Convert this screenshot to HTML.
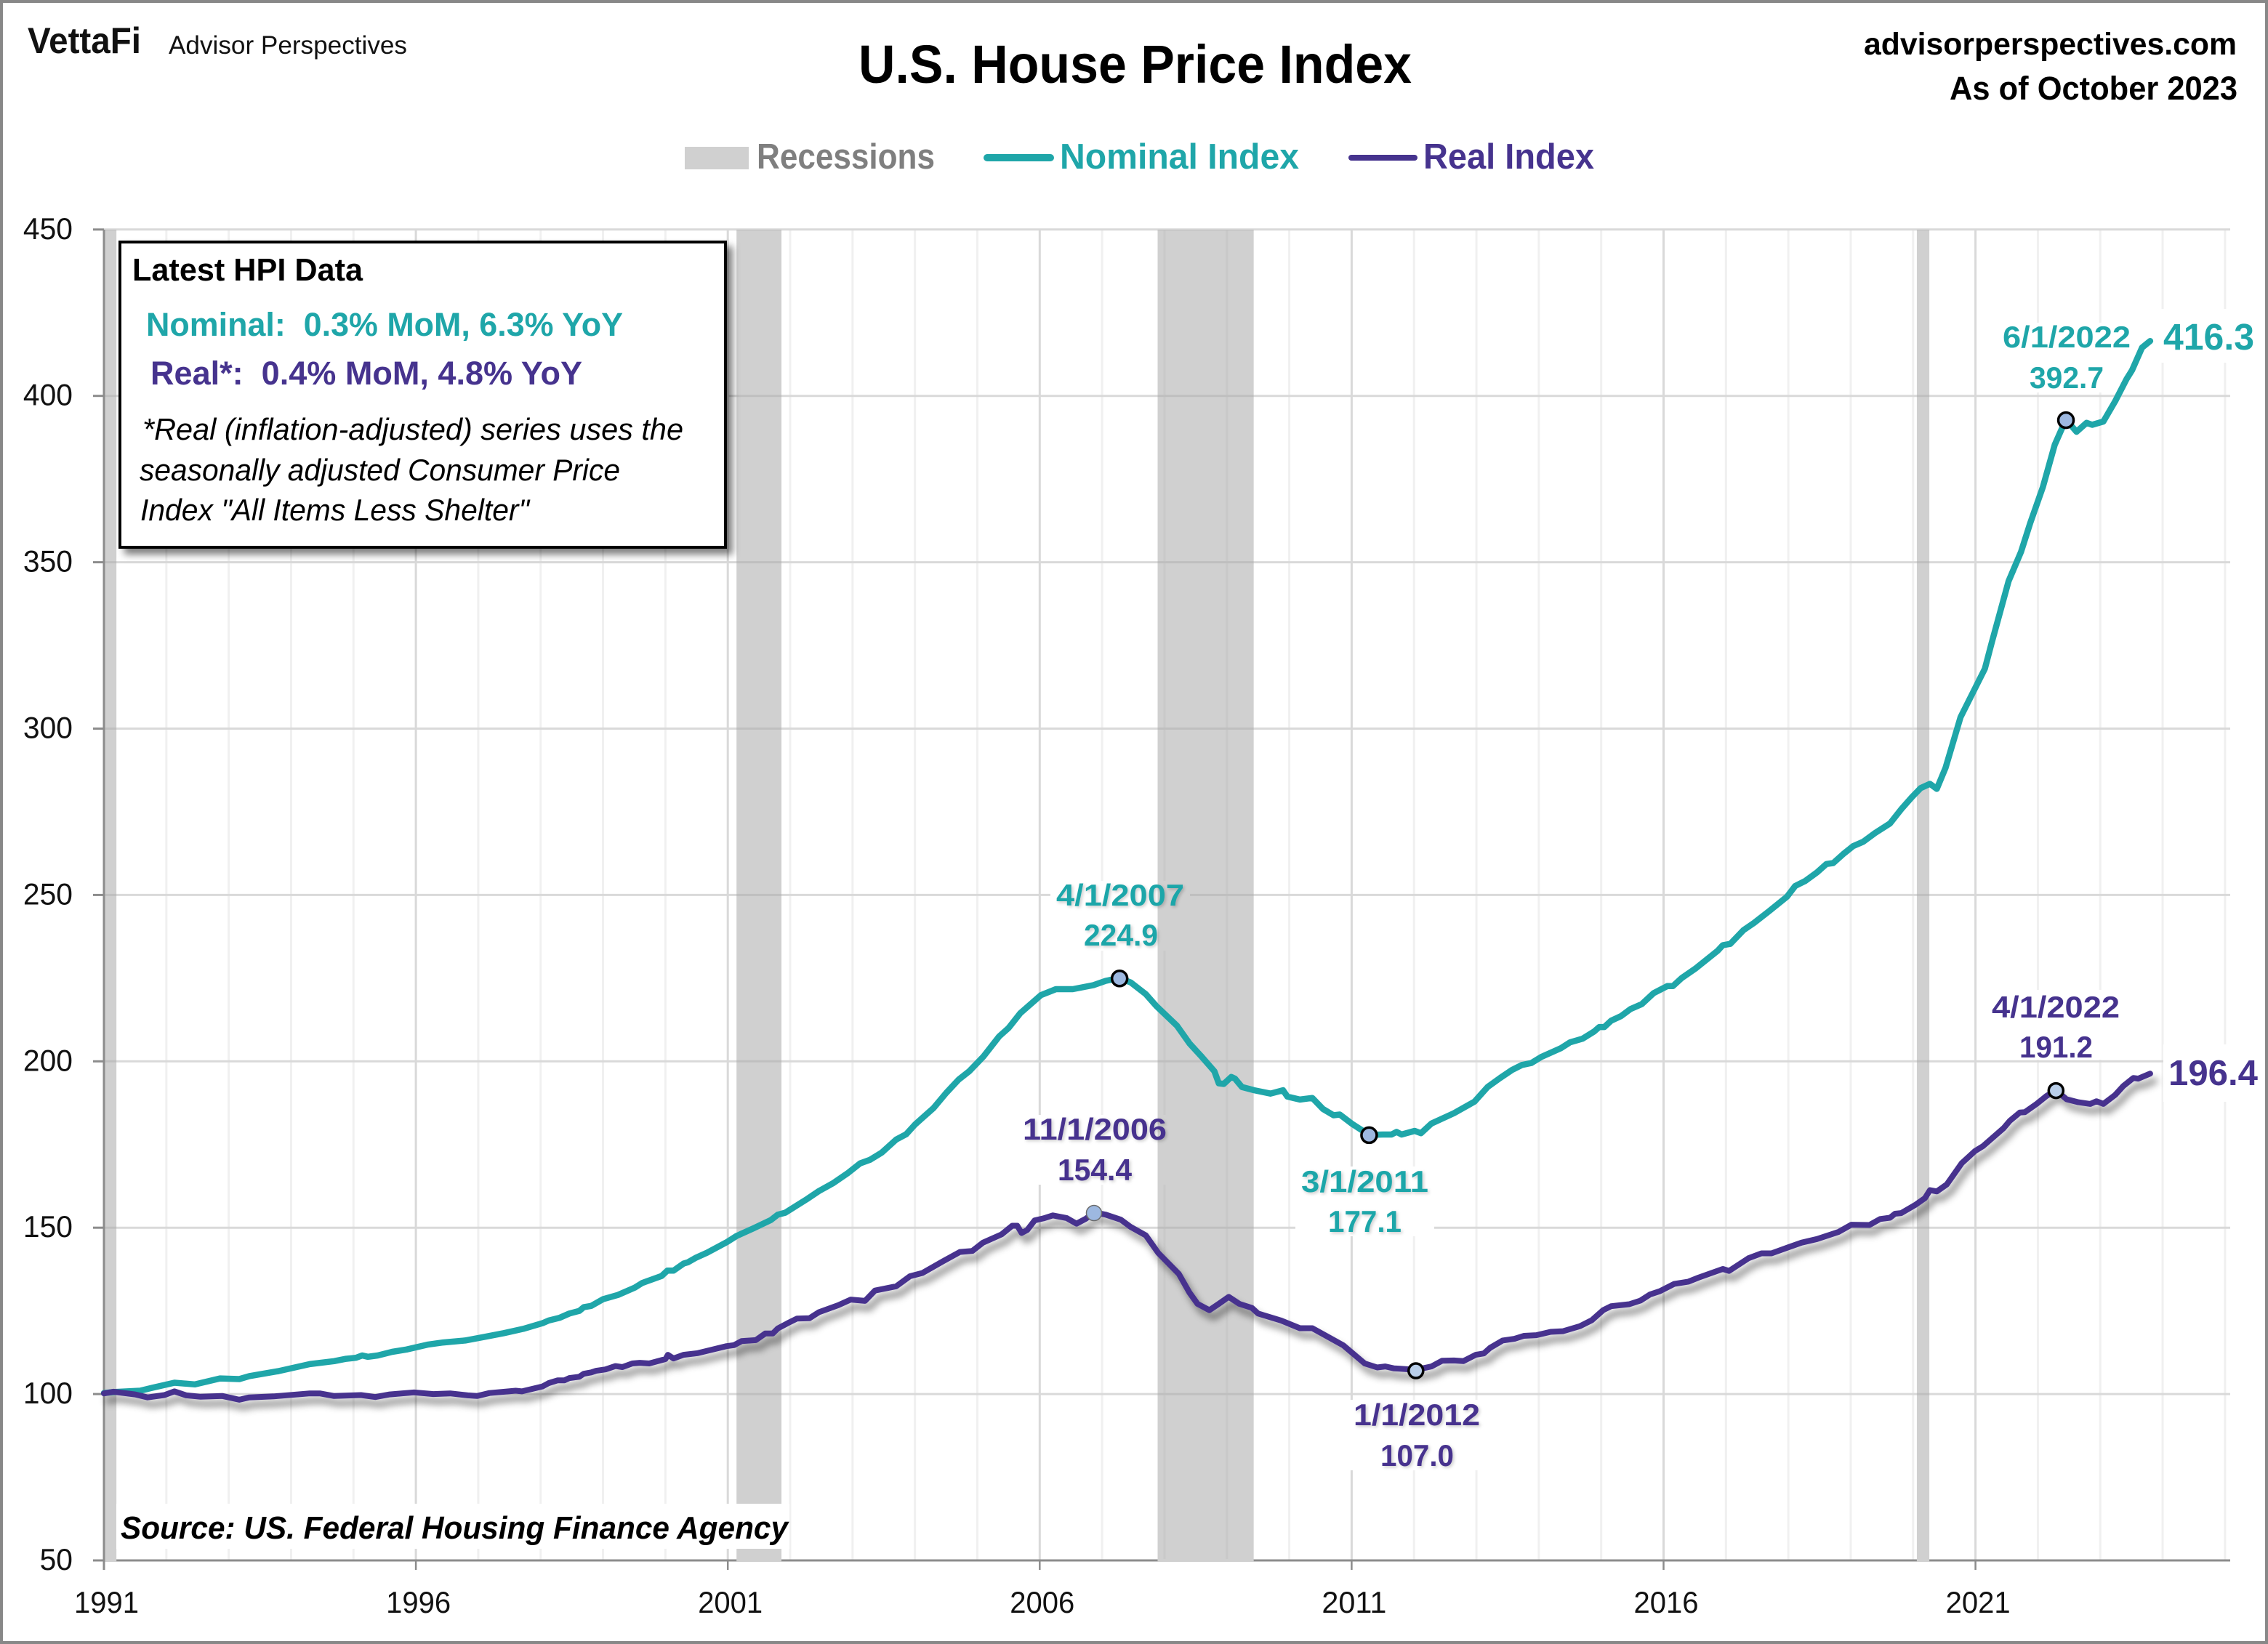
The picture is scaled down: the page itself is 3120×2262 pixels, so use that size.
<!DOCTYPE html>
<html lang="en">
<head>
<meta charset="utf-8">
<title>U.S. House Price Index</title>
<style>
html,body{margin:0;padding:0;background:#fff;}
svg{display:block;}
text{font-family:"Liberation Sans",Arial,sans-serif;}
.b{font-weight:700;}
.teal{fill:#1FA6A9;}
.purple{fill:#46338E;}
.glow{filter:url(#labelShadow);}
</style>
</head>
<body>
<svg id="chart" xmlns="http://www.w3.org/2000/svg" width="3120" height="2262" viewBox="0 0 3120 2262">
  <defs>
    <filter id="lineShadow" x="-5%" y="-20%" width="110%" height="140%" filterUnits="objectBoundingBox">
      <feDropShadow dx="6" dy="10" stdDeviation="5" flood-color="#000" flood-opacity="0.45"/>
    </filter>
    <filter id="boxShadow" x="-5%" y="-5%" width="112%" height="112%">
      <feDropShadow dx="8" dy="8" stdDeviation="5" flood-color="#000" flood-opacity="0.5"/>
    </filter>
    <filter id="labelShadow" x="-5%" y="-15%" width="110%" height="130%">
      <feDropShadow dx="2" dy="2" stdDeviation="2" flood-color="#000" flood-opacity="0.2"/>
    </filter>
  </defs>

  <rect x="0" y="0" width="3120" height="2262" fill="#fff"/>

  <g id="gridLayer"></g>

  <!-- white label backings interrupt the gridlines but sit beneath the recession bands -->
  <g fill="#fff">
    <rect x="1445" y="1212" width="192" height="96"/>
    <rect x="1398" y="1534" width="214" height="96"/>
    <rect x="1782" y="1605" width="191" height="96"/>
    <rect x="1854" y="1926" width="190" height="97"/>
    <rect x="2750" y="444" width="186" height="96"/>
    <rect x="2733" y="1362" width="190" height="96"/>
    <rect x="2969" y="425" width="140" height="74"/>
    <rect x="2976" y="1437" width="134" height="79"/>
  </g>

  <g id="bandLayer"></g>
  <g id="axisLayer"></g>

  <rect x="160" y="2069" width="926" height="62" fill="#fff"/>

  <g id="seriesLayer"></g>
  <g id="markerLayer"></g>

  <!-- header -->
  <text class="b" x="38" y="73" font-size="50" textLength="156" lengthAdjust="spacingAndGlyphs" fill="#111">VettaFi</text>
  <text x="232" y="74" font-size="35" textLength="328" lengthAdjust="spacingAndGlyphs" fill="#111">Advisor Perspectives</text>
  <text class="b" x="1181" y="114" font-size="74" textLength="761" lengthAdjust="spacingAndGlyphs" fill="#000">U.S. House Price Index</text>
  <text class="b" x="2564" y="75" font-size="43" textLength="513" lengthAdjust="spacingAndGlyphs" fill="#000">advisorperspectives.com</text>
  <text class="b" x="2682" y="137" font-size="45" textLength="396" lengthAdjust="spacingAndGlyphs" fill="#000">As of October 2023</text>

  <!-- legend -->
  <g>
    <g>
      <rect x="942" y="202" width="88" height="31" fill="#D0D0D0"/>
      <text class="b" x="1041" y="232" font-size="49" textLength="245" lengthAdjust="spacingAndGlyphs" fill="#7F7F7F">Recessions</text>
    </g>
    <g>
      <line x1="1358" y1="217" x2="1445" y2="217" stroke="#1FA6A9" stroke-width="10" stroke-linecap="round"/>
      <text class="b teal" x="1458" y="232" font-size="49" textLength="329" lengthAdjust="spacingAndGlyphs">Nominal Index</text>
    </g>
    <g>
      <line x1="1859" y1="217" x2="1946" y2="217" stroke="#46338E" stroke-width="8" stroke-linecap="round"/>
      <text class="b purple" x="1958" y="232" font-size="49" textLength="235" lengthAdjust="spacingAndGlyphs">Real Index</text>
    </g>
  </g>

  <!-- data labels -->
  <g>
    <text class="b teal glow" x="1453" y="1246" font-size="42" textLength="176" lengthAdjust="spacingAndGlyphs">4/1/2007</text>
    <text class="b teal glow" x="1491" y="1301" font-size="42" textLength="102" lengthAdjust="spacingAndGlyphs">224.9</text>
    <text class="b purple glow" x="1407" y="1568" font-size="42" textLength="198" lengthAdjust="spacingAndGlyphs">11/1/2006</text>
    <text class="b purple glow" x="1455" y="1624" font-size="42" textLength="102" lengthAdjust="spacingAndGlyphs">154.4</text>
    <text class="b teal glow" x="1790" y="1640" font-size="42" textLength="175" lengthAdjust="spacingAndGlyphs">3/1/2011</text>
    <text class="b teal glow" x="1827" y="1695" font-size="42" textLength="101" lengthAdjust="spacingAndGlyphs">177.1</text>
    <text class="b purple glow" x="1862" y="1961" font-size="42" textLength="174" lengthAdjust="spacingAndGlyphs">1/1/2012</text>
    <text class="b purple glow" x="1899" y="2017" font-size="42" textLength="101" lengthAdjust="spacingAndGlyphs">107.0</text>
    <text class="b teal" x="2755" y="478" font-size="42" textLength="176" lengthAdjust="spacingAndGlyphs">6/1/2022</text>
    <text class="b teal" x="2792" y="534" font-size="42" textLength="102" lengthAdjust="spacingAndGlyphs">392.7</text>
    <text class="b purple" x="2740" y="1400" font-size="42" textLength="176" lengthAdjust="spacingAndGlyphs">4/1/2022</text>
    <text class="b purple" x="2778" y="1455" font-size="42" textLength="101" lengthAdjust="spacingAndGlyphs">191.2</text>
    <text class="b teal" x="2976" y="481" font-size="51" textLength="125" lengthAdjust="spacingAndGlyphs">416.3</text>
    <text class="b purple" x="2983" y="1493" font-size="49" textLength="123" lengthAdjust="spacingAndGlyphs">196.4</text>
  </g>

  <!-- info box -->
  <g>
    <rect x="165" y="333" width="833" height="420" fill="#fff" stroke="#000" stroke-width="4" filter="url(#boxShadow)"/>
    <text class="b" x="182" y="386" font-size="44" textLength="317" lengthAdjust="spacingAndGlyphs" fill="#000">Latest HPI Data</text>
    <text class="b teal" x="201" y="462" font-size="45" textLength="656" lengthAdjust="spacingAndGlyphs" xml:space="preserve">Nominal:  0.3% MoM, 6.3% YoY</text>
    <text class="b purple" x="207" y="529" font-size="45" textLength="594" lengthAdjust="spacingAndGlyphs" xml:space="preserve">Real*:  0.4% MoM, 4.8% YoY</text>
    <text font-style="italic" x="196" y="605" font-size="42" textLength="744" lengthAdjust="spacingAndGlyphs" fill="#000">*Real (inflation-adjusted) series uses the</text>
    <text font-style="italic" x="192" y="661" font-size="42" textLength="661" lengthAdjust="spacingAndGlyphs" fill="#000">seasonally adjusted Consumer Price</text>
    <text font-style="italic" x="193" y="716" font-size="42" textLength="535" lengthAdjust="spacingAndGlyphs" fill="#000">Index "All Items Less Shelter"</text>
  </g>

  <text class="b" font-style="italic" x="166" y="2117" font-size="44" textLength="918" lengthAdjust="spacingAndGlyphs" fill="#000">Source: US. Federal Housing Finance Agency</text>

  <g id="tickLabelLayer"></g>

  <!-- outer frame -->
  <rect x="2" y="2" width="3116" height="2258" fill="none" stroke="#888" stroke-width="4"/>
</svg>

<script>
// ---- Chart data ----
const yTickValues = [50, 100, 150, 200, 250, 300, 350, 400, 450];
const xTickYears = [1991, 1996, 2001, 2006, 2011, 2016, 2021];
const minorGridYears = [1992, 1993, 1994, 1995, 1997, 1998, 1999, 2000, 2002, 2003, 2004, 2005, 2007, 2008, 2009, 2010, 2012, 2013, 2014, 2015, 2017, 2018, 2019, 2020, 2022, 2023, 2024, 2025];
const recessionStarts = [1991.0, 2001.14, 2007.89, 2020.06];
const recessionEnds = [1991.2, 2001.86, 2009.43, 2020.26];

const nominalYears = [1991.0,1991.15,1991.58,1991.78,1992.13,1992.46,1992.86,1993.17,1993.33,1993.8,1994.3,1994.69,1994.88,1995.04,1995.14,1995.23,1995.39,1995.62,1995.85,1996.2,1996.44,1996.79,1997.1,1997.41,1997.72,1998.03,1998.13,1998.3,1998.46,1998.62,1998.69,1998.81,1999.0,1999.24,1999.51,1999.63,1999.94,2000.03,2000.13,2000.29,2000.36,2000.48,2000.67,2000.98,2001.14,2001.41,2001.69,2001.8,2001.92,2002.27,2002.46,2002.69,2002.93,2003.12,2003.28,2003.47,2003.7,2003.86,2004.0,2004.3,2004.5,2004.7,2004.87,2005.1,2005.35,2005.5,2005.69,2006.02,2006.26,2006.53,2006.86,2007.06,2007.28,2007.46,2007.7,2007.87,2008.2,2008.4,2008.6,2008.8,2008.87,2008.95,2009.07,2009.13,2009.24,2009.44,2009.7,2009.9,2009.97,2010.17,2010.37,2010.54,2010.71,2010.81,2011.0,2011.28,2011.5,2011.64,2011.72,2011.8,2012.01,2012.11,2012.28,2012.64,2012.97,2013.18,2013.38,2013.57,2013.73,2013.88,2014.04,2014.35,2014.5,2014.7,2014.89,2014.97,2015.05,2015.16,2015.32,2015.47,2015.65,2015.84,2016.06,2016.15,2016.29,2016.52,2016.87,2016.95,2017.07,2017.28,2017.45,2017.69,2017.98,2018.11,2018.27,2018.46,2018.61,2018.72,2018.88,2019.04,2019.2,2019.39,2019.63,2019.82,2019.98,2020.12,2020.27,2020.38,2020.52,2020.76,2021.15,2021.26,2021.53,2021.73,2021.88,2022.08,2022.27,2022.45,2022.62,2022.78,2022.87,2023.05,2023.24,2023.42,2023.51,2023.67,2023.8];
const nominalValues = [100.3,100.6,101.0,101.9,103.4,102.9,104.7,104.5,105.4,106.9,109.0,109.9,110.6,110.9,111.6,111.2,111.6,112.7,113.4,114.9,115.5,116.1,117.2,118.3,119.6,121.3,122.1,122.9,124.2,125.0,126.1,126.5,128.5,129.8,132.0,133.4,135.5,137.1,137.1,139.2,139.6,140.9,142.5,145.6,147.5,149.8,152.3,153.9,154.5,158.6,161.0,163.4,166.5,169.3,170.4,172.6,176.5,178.1,181.0,186.0,190.5,194.5,197.0,201.5,207.5,210.0,214.5,219.9,221.7,221.7,222.9,224.2,225.0,223.7,220.2,216.6,210.7,205.4,201.3,197.0,193.4,193.2,195.3,194.8,192.3,191.3,190.3,191.3,189.4,188.5,189.0,185.7,183.8,184.0,181.3,177.9,178.0,178.0,178.8,178.0,179.1,178.4,181.3,184.4,187.9,192.3,195.0,197.4,198.9,199.5,201.3,203.9,205.7,206.8,209.0,210.3,210.3,212.2,213.6,215.7,217.2,220.5,222.6,222.6,225.0,228.0,233.3,234.9,235.3,239.4,241.6,245.1,249.5,252.7,254.2,256.8,259.3,259.6,262.3,264.7,266.0,268.6,271.5,276.0,279.4,282.1,283.4,281.9,288.2,303.4,318.0,325.8,344.3,353.1,361.9,372.6,385.3,392.9,389.2,391.9,391.3,392.3,398.4,405.0,407.7,414.5,416.5];

const realYears = [1991.0,1991.15,1991.5,1991.7,1991.97,1992.13,1992.32,1992.55,1992.9,1993.17,1993.33,1993.72,1994.3,1994.46,1994.69,1995.12,1995.35,1995.58,1995.97,1996.28,1996.55,1996.83,1996.98,1997.18,1997.6,1997.7,1998.03,1998.13,1998.27,1998.38,1998.46,1998.62,1998.69,1998.81,1998.89,1999.04,1999.2,1999.31,1999.47,1999.59,1999.74,2000.0,2000.04,2000.13,2000.29,2000.52,2000.67,2000.98,2001.1,2001.22,2001.45,2001.6,2001.72,2001.8,2001.96,2002.11,2002.31,2002.46,2002.77,2002.97,2003.2,2003.36,2003.7,2003.92,2004.12,2004.45,2004.72,2004.92,2005.09,2005.39,2005.56,2005.64,2005.71,2005.8,2005.92,2006.06,2006.21,2006.43,2006.59,2006.74,2006.87,2007.06,2007.3,2007.46,2007.7,2007.9,2008.23,2008.4,2008.53,2008.72,2008.87,2009.03,2009.2,2009.4,2009.5,2009.87,2010.17,2010.37,2010.61,2010.87,2011.21,2011.41,2011.54,2011.68,2011.78,2012.03,2012.28,2012.45,2012.64,2012.79,2012.99,2013.12,2013.22,2013.42,2013.61,2013.76,2013.96,2014.19,2014.39,2014.66,2014.85,2015.03,2015.16,2015.45,2015.63,2015.78,2015.94,2016.17,2016.4,2016.56,2016.95,2017.05,2017.36,2017.57,2017.73,2018.0,2018.21,2018.46,2018.8,2019.01,2019.3,2019.47,2019.63,2019.71,2019.81,2020.03,2020.19,2020.27,2020.38,2020.54,2020.78,2020.99,2021.12,2021.45,2021.55,2021.71,2021.79,2021.98,2022.14,2022.29,2022.46,2022.65,2022.84,2022.94,2023.05,2023.24,2023.37,2023.53,2023.61,2023.8];
const realValues = [100.2,100.7,99.9,99.0,99.7,100.8,99.6,99.2,99.4,98.3,99.0,99.3,100.2,100.2,99.4,99.7,99.1,99.9,100.5,100.0,100.2,99.6,99.4,100.3,101.0,100.8,102.3,103.3,104.1,104.1,104.8,105.2,106.1,106.5,107.0,107.4,108.4,108.1,109.2,109.4,109.2,110.5,111.8,110.7,111.8,112.3,113.0,114.4,114.7,115.9,116.2,118.2,118.2,119.7,121.3,122.7,122.8,124.6,126.7,128.4,128.0,131.1,132.4,135.4,136.4,139.9,142.7,143.0,145.5,148.0,150.6,150.6,148.4,149.3,152.2,152.8,153.7,152.9,151.2,152.7,154.6,153.9,152.4,150.2,147.7,142.4,136.1,130.5,127.1,125.2,127.1,129.2,127.1,125.9,124.2,122.1,119.8,119.8,117.3,114.6,109.2,108.0,108.3,107.7,107.6,107.3,108.3,110.0,110.1,109.9,111.8,112.2,113.9,116.1,116.6,117.5,117.7,118.7,118.9,120.4,122.2,125.2,126.4,127.0,128.1,129.9,130.9,133.1,133.8,135.0,137.6,137.0,140.8,142.3,142.3,144.1,145.5,146.6,148.7,150.9,150.8,152.6,153.0,154.2,154.4,156.8,158.9,161.3,160.9,163.0,169.4,173.0,174.5,179.9,182.1,184.6,184.7,187.2,189.6,191.3,188.6,187.7,187.2,188.0,187.2,189.9,192.6,195.0,194.8,196.3];

const nominalMarkerYears = [2007.28, 2011.28, 2022.45];
const nominalMarkerValues = [224.9, 177.8, 392.7];
const realMarkerYears = [2006.87, 2012.03, 2022.29];
const realMarkerValues = [154.4, 107.0, 191.2];

// ---- Axis functions ----
const X_ZERO = 143, X_PER_YEAR = 85.82, X_MAX = 3068;
const Y_ZERO = 2147, Y_PER_UNIT = 4.578, Y_TOP = 316;
function xScale(year) { return X_ZERO + (year - 1991) * X_PER_YEAR; }
function yScale(value) { return Y_ZERO - (value - 50) * Y_PER_UNIT; }

const NS = 'http://www.w3.org/2000/svg';
function make(tag, attrs, parent) {
  const el = document.createElementNS(NS, tag);
  for (const k in attrs) el.setAttribute(k, attrs[k]);
  parent.appendChild(el);
  return el;
}
const gridLayer = document.getElementById('gridLayer');
const bandLayer = document.getElementById('bandLayer');
const axisLayer = document.getElementById('axisLayer');
const seriesLayer = document.getElementById('seriesLayer');
const markerLayer = document.getElementById('markerLayer');
const tickLabelLayer = document.getElementById('tickLabelLayer');

// Gridlines
minorGridYears.forEach(function (yr) {
  const el = make('line', {x1: xScale(yr), x2: xScale(yr), y1: Y_TOP, y2: Y_ZERO, stroke: '#F0F0F0', 'stroke-width': 3}, gridLayer);
  
  
});
xTickYears.forEach(function (yr) {
  if (yr === 1991) return;
  const el = make('line', {x1: xScale(yr), x2: xScale(yr), y1: Y_TOP, y2: Y_ZERO, stroke: '#D9D9D9', 'stroke-width': 3}, gridLayer);
  
  
});
yTickValues.forEach(function (v) {
  if (v === 50) return;
  const el = make('line', {x1: X_ZERO, x2: X_MAX, y1: yScale(v), y2: yScale(v), stroke: '#D9D9D9', 'stroke-width': 3}, gridLayer);
  
  
});

// X axis line sits under the recession bands
const xAxis = make('line', {x1: X_ZERO, x2: X_MAX, y1: Y_ZERO, y2: Y_ZERO, stroke: '#8C8C8C', 'stroke-width': 3}, bandLayer);



// Recession bands
recessionStarts.forEach(function (start, i) {
  const x0 = Math.max(xScale(start), X_ZERO);
  const x1 = xScale(recessionEnds[i]);
  const band = make('rect', {x: x0, y: Y_TOP, width: x1 - x0, height: Y_ZERO - Y_TOP + 1, fill: '#AAAAAA', 'fill-opacity': 0.553}, bandLayer);
  
  
  const cap = make('rect', {x: x0, y: Y_ZERO - 2, width: x1 - x0, height: 4, fill: '#D0D0D0'}, bandLayer);
  
  
});

// Y axis and ticks
const yAxis = make('line', {x1: X_ZERO, x2: X_ZERO, y1: Y_TOP, y2: Y_ZERO + 13, stroke: '#8C8C8C', 'stroke-width': 3}, axisLayer);


yTickValues.forEach(function (v) {
  const tick = make('line', {x1: X_ZERO - 15, x2: X_ZERO, y1: yScale(v), y2: yScale(v), stroke: '#8C8C8C', 'stroke-width': 3}, axisLayer);
  
  
  const label = make('text', {x: 100, y: yScale(v) + 13, 'text-anchor': 'end', 'font-size': 42, fill: '#111', textLength: String(v).length * 22.7, lengthAdjust: 'spacingAndGlyphs'}, tickLabelLayer);
  
  
  label.textContent = String(v);
});
xTickYears.forEach(function (yr) {
  const tick = make('line', {x1: xScale(yr), x2: xScale(yr), y1: Y_ZERO, y2: Y_ZERO + 13, stroke: '#8C8C8C', 'stroke-width': 2.5}, axisLayer);
  
  
  const label = make('text', {x: xScale(yr) + 3.5, y: 2219, 'text-anchor': 'middle', 'font-size': 42, fill: '#111', textLength: 89, lengthAdjust: 'spacingAndGlyphs'}, tickLabelLayer);
  
  
  label.textContent = String(yr);
});

// Series
function pathFrom(years, values) {
  return years.map(function (yr, i) {
    return (i ? 'L' : 'M') + xScale(yr).toFixed(1) + ' ' + yScale(values[i]).toFixed(1);
  }).join('');
}
const nominalLine = make('path', {d: pathFrom(nominalYears, nominalValues), fill: 'none', stroke: '#1FA6A9', 'stroke-width': 8.5, 'stroke-linejoin': 'round', 'stroke-linecap': 'round'}, seriesLayer);


const realLine = make('path', {d: pathFrom(realYears, realValues), fill: 'none', stroke: '#46338E', 'stroke-width': 8, 'stroke-linejoin': 'round', 'stroke-linecap': 'round', filter: 'url(#lineShadow)'}, seriesLayer);



// Markers
nominalMarkerYears.forEach(function (yr, i) {
  const m = make('circle', {cx: xScale(yr), cy: yScale(nominalMarkerValues[i]), r: 10.5, fill: '#9DB8E0', stroke: '#000', 'stroke-width': 3.5}, markerLayer);
  
  
});
realMarkerYears.forEach(function (yr, i) {
  const first = i === 0;
  const m = make('circle', {cx: xScale(yr), cy: yScale(realMarkerValues[i]), r: first ? 10.5 : 10, fill: first ? '#9DB8E0' : '#B9CEE9', stroke: first ? '#6A6A6A' : '#000', 'stroke-width': first ? 1.5 : 3.5}, markerLayer);
  
  
});
</script>
</body>
</html>
